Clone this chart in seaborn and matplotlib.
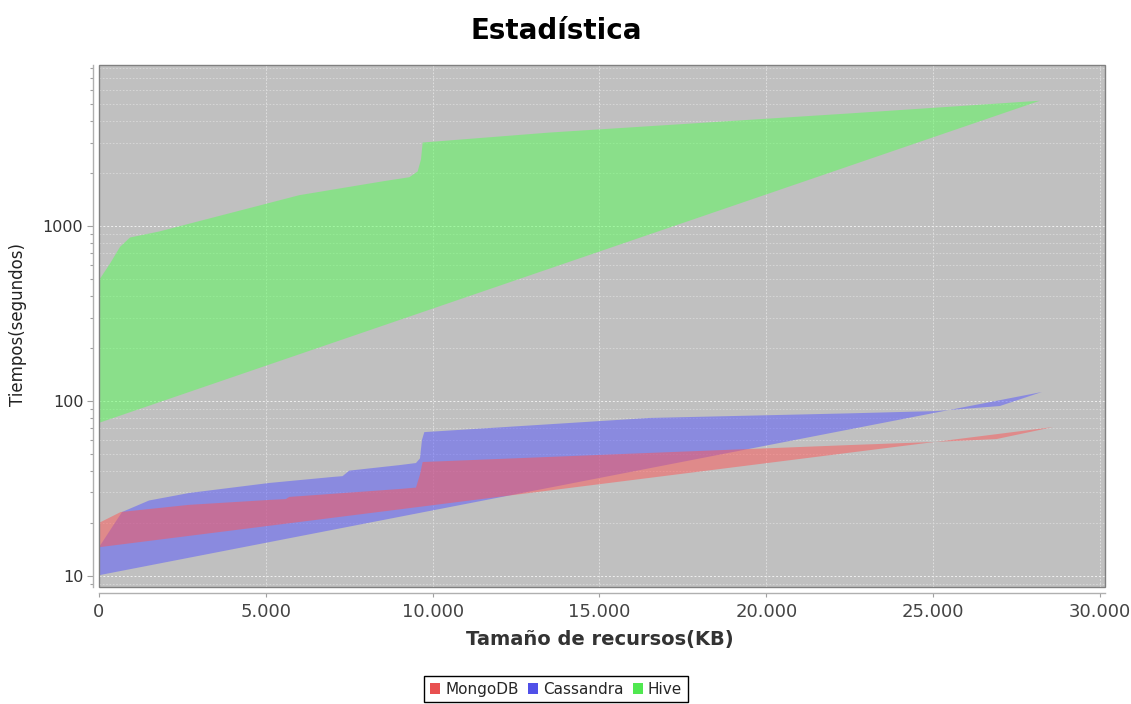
import numpy as np
import pandas as pd
import matplotlib
matplotlib.use("Agg")
import matplotlib.pyplot as plt
import seaborn as sns
from matplotlib.ticker import FixedLocator, FuncFormatter, LogLocator, NullFormatter
from matplotlib.patches import Patch, Rectangle

# Resource size (KB) and elapsed time (s), in the order the points were recorded
mongo_kb = [0, 0, 650, 2700, 5100, 5600, 5700, 9000, 9500, 9620, 9700,
            16500, 22500, 25000, 26900, 27900, 28600]
mongo_t = [14.6, 20.1, 23.2, 25.5, 27.2, 27.5, 28.3, 31.4, 32.0, 38.0, 44.8,
           50.5, 56.0, 58.3, 60.6, 66.5, 71.0]

cassandra_kb = [0, 0, 690, 1500, 2700, 5100, 7000, 7300, 7500, 9000, 9500,
                9620, 9680, 9750, 16500, 22500, 25100, 27000, 28260]
cassandra_t = [10.1, 14.6, 23.2, 27.0, 29.8, 34.0, 36.8, 37.2, 40.0, 43.0, 44.2,
               47.0, 60.0, 66.4, 80.0, 85.0, 87.6, 93.6, 112.6]

hive_kb = [0, 0, 330, 630, 930, 1800, 6000, 8500, 9300, 9550, 9650, 9700,
           13500, 22500, 28200]
hive_t = [75, 490, 610, 760, 860, 930, 1500, 1800, 1900, 2050, 2400, 3000,
          3420, 4400, 5200]

series_names = ["MongoDB", "Cassandra", "Hive"]
series_colors = ["#ff5555", "#5555ff", "#55ff55"]

x_ticks = [0, 5000, 10000, 15000, 20000, 25000, 30000]
y_ticks = [10, 100, 1000]

df = pd.concat([
    pd.DataFrame({"kb": mongo_kb, "t": mongo_t, "motor": "MongoDB"}),
    pd.DataFrame({"kb": cassandra_kb, "t": cassandra_t, "motor": "Cassandra"}),
    pd.DataFrame({"kb": hive_kb, "t": hive_t, "motor": "Hive"}),
], ignore_index=True)

sns.set_theme(style="white")
plt.rcParams["font.family"] = ["DejaVu Sans"]
palette = dict(zip(series_names, sns.color_palette(series_colors)))

W, H = 1131, 704
fig = plt.figure(figsize=(W / 100, H / 100), dpi=100)
fig.patch.set_facecolor("white")
left, right, top, bottom = 99, 1105, 65, 587
ax = fig.add_axes([left / W, 1 - bottom / H, (right - left) / W, (bottom - top) / H])
ax.set_facecolor("#c0c0c0")
ax.set_yscale("log")
ax.set_xlim(0, 30150)
ax.set_ylim(8.65, 8320)

# Areas: later series drawn first, so MongoDB sits on top
for z, name in enumerate(reversed(series_names)):
    sub = df[df["motor"] == name]
    ax.fill(sub["kb"].to_numpy(), sub["t"].to_numpy(), color=palette[name],
            alpha=0.5, lw=0, zorder=2 + z)

# Grid
ax.set_axisbelow(True)
ax.xaxis.set_major_locator(FixedLocator(x_ticks))
ax.yaxis.set_major_locator(FixedLocator(y_ticks))
ax.yaxis.set_minor_locator(LogLocator(base=10, subs=np.arange(2, 10)))
ax.yaxis.set_minor_formatter(NullFormatter())
ax.xaxis.set_major_formatter(FuncFormatter(lambda v, p: f"{int(v):,}".replace(",", ".")))
ax.yaxis.set_major_formatter(FuncFormatter(lambda v, p: f"{int(v)}"))
ax.grid(True, which="major", axis="x", color="#e4e4e4", ls=(0, (2, 2)), lw=0.6)
ax.grid(True, which="major", axis="y", color="#f0f0f0", ls=(0, (2, 2)), lw=0.7)
ax.grid(True, which="minor", axis="y", color="#dadada", ls=(0, (2, 2)), lw=0.6)

# Axis lines offset from the plot outline
for s in ["top", "right"]:
    ax.spines[s].set_visible(False)
for s in ["left", "bottom"]:
    ax.spines[s].set_position(("outward", 4.3))
    ax.spines[s].set_color("#b0b0b0")
    ax.spines[s].set_linewidth(1.0)
ax.add_patch(Rectangle((0, 0), 1, 1, transform=ax.transAxes, fill=False,
                       ec="#808080", lw=1.0, clip_on=False, zorder=10))

ax.tick_params(axis="x", which="major", direction="out", length=3, width=0.8,
               color="#a0a0a0", labelsize=13, labelcolor="#444444", pad=4,
               bottom=True)
ax.tick_params(axis="y", which="major", direction="out", length=4, width=0.8,
               color="#a0a0a0", labelsize=11.5, labelcolor="#333333", pad=3,
               left=True)
ax.tick_params(axis="y", which="minor", direction="out", length=2, width=0.8,
               color="#a0a0a0", left=True)

fig.text(556 / W, 1 - 31 / H, "Estadística", ha="center", va="center",
         fontsize=20, fontweight="bold", color="black")
fig.text(600 / W, 1 - 640 / H, "Tamaño de recursos(KB)", ha="center", va="center",
         fontsize=14, fontweight="bold", color="#333333")
fig.text(18 / W, 1 - 325 / H, "Tiempos(segundos)", ha="center", va="center",
         rotation=90, fontsize=12, color="#222222")

handles = [Patch(facecolor=c, edgecolor="none", label=n)
           for n, c in zip(series_names, ["#e85050", "#5050e8", "#50e850"])]
fig.legend(handles=handles, loc="lower center", bbox_to_anchor=(556 / W, -0.008),
           ncol=3, frameon=True, fancybox=False, edgecolor="black", fontsize=11,
           handlelength=0.7, handleheight=0.7, handletextpad=0.3,
           columnspacing=0.6, borderpad=0.35, framealpha=1)

fig.savefig("out.png", dpi=100)
